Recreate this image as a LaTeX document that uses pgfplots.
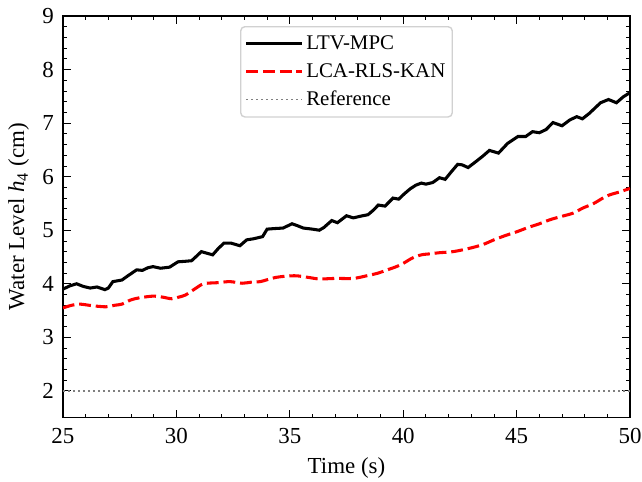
\documentclass[border=0pt]{standalone}
\usepackage{fontspec}
\setmainfont{Liberation Serif}
\usepackage{pgfplots}
\pgfplotsset{compat=1.18}

\pgfplotstableread{
t h
25.0 3.90
25.3 3.96
25.6 4.00
25.9 3.95
26.2 3.92
26.5 3.94
26.85 3.89
27.0 3.92
27.2 4.04
27.6 4.07
27.9 4.16
28.25 4.26
28.5 4.25
28.75 4.30
28.97 4.32
29.3 4.29
29.7 4.31
30.07 4.41
30.4 4.42
30.67 4.43
30.9 4.52
31.1 4.60
31.35 4.57
31.6 4.54
31.85 4.66
32.1 4.76
32.4 4.76
32.8 4.71
33.1 4.82
33.4 4.84
33.8 4.88
34.0 5.02
34.3 5.03
34.7 5.04
34.9 5.08
35.1 5.12
35.3 5.09
35.6 5.04
36.0 5.02
36.3 5.00
36.5 5.05
36.85 5.18
37.1 5.14
37.5 5.27
37.8 5.23
38.1 5.26
38.45 5.29
38.7 5.38
38.9 5.47
39.2 5.45
39.55 5.60
39.8 5.58
40.05 5.68
40.3 5.77
40.55 5.84
40.8 5.88
41.0 5.86
41.3 5.89
41.6 5.98
41.85 5.95
42.1 6.08
42.4 6.23
42.6 6.22
42.86 6.17
43.2 6.28
43.5 6.38
43.8 6.49
44.2 6.44
44.6 6.62
45.06 6.75
45.4 6.75
45.7 6.84
46.0 6.82
46.3 6.88
46.6 7.01
47.0 6.95
47.35 7.06
47.65 7.12
47.9 7.08
48.2 7.18
48.45 7.28
48.7 7.38
49.05 7.44
49.4 7.38
49.7 7.49
50.0 7.57
}\ltvmpc

\pgfplotstableread{
t h
25.0 3.55
25.4 3.60
25.75 3.62
26.3 3.59
26.9 3.57
27.3 3.60
27.6 3.62
28.0 3.70
28.4 3.74
29.0 3.77
29.4 3.75
29.8 3.72
30.1 3.75
30.4 3.79
30.8 3.90
31.2 4.00
31.8 4.02
32.36 4.04
32.9 4.01
33.3 4.03
33.7 4.04
34.4 4.12
35.2 4.15
35.8 4.12
36.3 4.09
37.0 4.10
37.8 4.10
38.4 4.15
38.9 4.20
39.3 4.26
39.7 4.32
40.0 4.38
40.4 4.48
40.8 4.54
41.2 4.56
41.6 4.58
42.2 4.60
42.9 4.66
43.5 4.73
44.0 4.82
44.5 4.90
45.0 4.97
45.5 5.05
46.0 5.12
46.5 5.20
47.0 5.26
47.5 5.32
47.9 5.41
48.4 5.50
48.8 5.60
49.1 5.66
49.5 5.71
50.0 5.78
}\rlskan

\begin{document}
\begin{tikzpicture}[font=\fontsize{16.5}{19}\selectfont]
\begin{axis}[
  scale only axis,
  width=408pt, height=289pt,
  xmin=25, xmax=50,
  ymin=1.5, ymax=9,
  xtick={25,30,...,50},
  ytick={2,3,...,9},
  minor x tick num=4,
  minor y tick num=4,
  tick align=inside,
  xtick pos=both, ytick pos=both,
  major tick length=5.8pt,
  minor tick length=2.9pt,
  tick style={black, line width=0.6pt},
  axis line style={black, line width=0.8pt},
  /pgf/number format/assume math mode=true,
  xticklabel style={yshift=-4pt},
  yticklabel style={xshift=-3pt},
  xlabel={Time (s)},
  ylabel={Water Level \textit{h}\textsubscript{4} (cm)},
  xlabel style={at={(axis description cs:0.5,0)}, anchor=north, yshift=-25pt},
  ylabel style={at={(axis description cs:-0.078,0.5)}, anchor=center},
  legend cell align=left,
  legend style={
    at={(0.5,0.975)}, anchor=north,
    font=\fontsize{15}{17}\selectfont,
    draw=black!18, line width=1pt, rounded corners=3pt,
    inner xsep=3pt, inner ysep=4.5pt,
    row sep=4.5pt,
  },
  legend image code/.code={
    \draw[#1] (0pt,0pt) -- (31pt,0pt);
    \path (0pt,0pt) -- (40pt,0pt);
  },
]
  \addplot[black, line width=2.2pt] table[x=t, y=h] {\ltvmpc};
  \addlegendentry{LTV-MPC}
  \addplot[red, line width=2.2pt, dash pattern=on 8.5pt off 3.5pt, smooth] table[x=t, y=h] {\rlskan};
  \addlegendentry{LCA-RLS-KAN}
  \addplot[gray, line width=1.1pt, dash pattern=on 1.2pt off 2.4pt] coordinates {(25,2) (50,2)};
  \addlegendentry{Reference}
\end{axis}
\pgfresetboundingbox
\path ([shift={(-45.3pt,-46pt)}]current axis.south west)
  rectangle ([shift={(8.6pt,11.5pt)}]current axis.north east);
\end{tikzpicture}
\end{document}
